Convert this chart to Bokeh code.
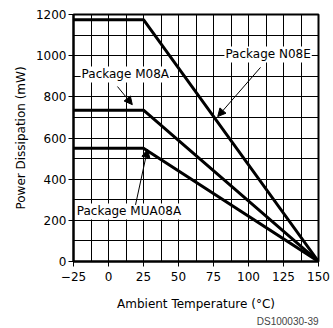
from bokeh.plotting import figure
from bokeh.models import Range1d, FixedTicker, Label, Arrow, NormalHead, Title
from bokeh.embed import file_html
from bokeh.resources import INLINE

temps = [-25, 25, 150]
n08e = [1175, 1175, 0]
m08a = [735, 735, 0]
mua08a = [550, 550, 0]

x_ticks = [-25, 0, 25, 50, 75, 100, 125, 150]
x_minor = [-12.5, 12.5, 37.5, 62.5, 87.5, 112.5, 137.5]
y_ticks = [0, 200, 400, 600, 800, 1000, 1200]
y_minor = [100, 300, 500, 700, 900, 1100]

FONT = "DejaVu Sans"

p = figure(width=333, height=328, output_backend="svg", toolbar_location=None,
           x_range=Range1d(-25, 150), y_range=Range1d(0, 1200),
           min_border_left=73, min_border_right=15, min_border_top=14, min_border_bottom=67)

p.xaxis.ticker = FixedTicker(ticks=x_ticks, minor_ticks=x_minor)
p.yaxis.ticker = FixedTicker(ticks=y_ticks, minor_ticks=y_minor)
p.xaxis.major_label_overrides = {-25: "\u221225"}

for ax in (p.xaxis, p.yaxis):
    ax.axis_line_color = "black"
    ax.axis_line_width = 2
    ax.major_tick_line_color = "black"
    ax.major_tick_out = 5
    ax.major_tick_in = 0
    ax.minor_tick_line_color = None
    ax.major_label_text_font = FONT
    ax.major_label_text_font_size = "12px"
    ax.major_label_text_color = "black"
    ax.axis_label_text_font = FONT
    ax.axis_label_text_font_size = "12px"
    ax.axis_label_text_font_style = "normal"
    ax.axis_label_text_color = "black"

p.xaxis.major_label_standoff = 5
p.yaxis.major_label_standoff = 2
p.xaxis.axis_label = "Ambient Temperature (\u00b0C)"
p.yaxis.axis_label = "Power Dissipation (mW)"
p.xaxis.axis_label_standoff = 13
p.yaxis.axis_label_standoff = 5

for g in (p.xgrid, p.ygrid):
    g.grid_line_color = "black"
    g.grid_line_width = 1
    g.grid_line_alpha = 1
    g.minor_grid_line_color = "black"
    g.minor_grid_line_width = 1

p.outline_line_color = "black"
p.outline_line_width = 2

for ys in (n08e, m08a, mua08a):
    p.line(temps, ys, line_color="black", line_width=3)

labels = [("Package N08E", 114, 1006), ("Package M08A", 12, 909), ("Package MUA08A", 14.6, 243)]
for txt, lx, ly in labels:
    p.add_layout(Label(x=lx, y=ly, text=txt, text_align="center", text_baseline="middle",
                       text_font=FONT, text_font_size="12px", text_color="black",
                       background_fill_color="white", padding=1))

arrows = [(108.6, 943, 78, 704), (6.4, 850, 17, 762), (19.3, 275, 27.9, 545)]
for xs, ys, xe, ye in arrows:
    p.add_layout(Arrow(x_start=xs, y_start=ys, x_end=xe, y_end=ye, line_width=1, line_color="black",
                       end=NormalHead(size=8, fill_color="black", line_color="black", line_width=1)))

p.add_layout(Title(text="DS100030-39", align="right", text_font="Liberation Sans",
                   text_font_size="10px", text_font_style="normal", standoff=0), "below")

open("out.html", "w").write(file_html(p, INLINE))
